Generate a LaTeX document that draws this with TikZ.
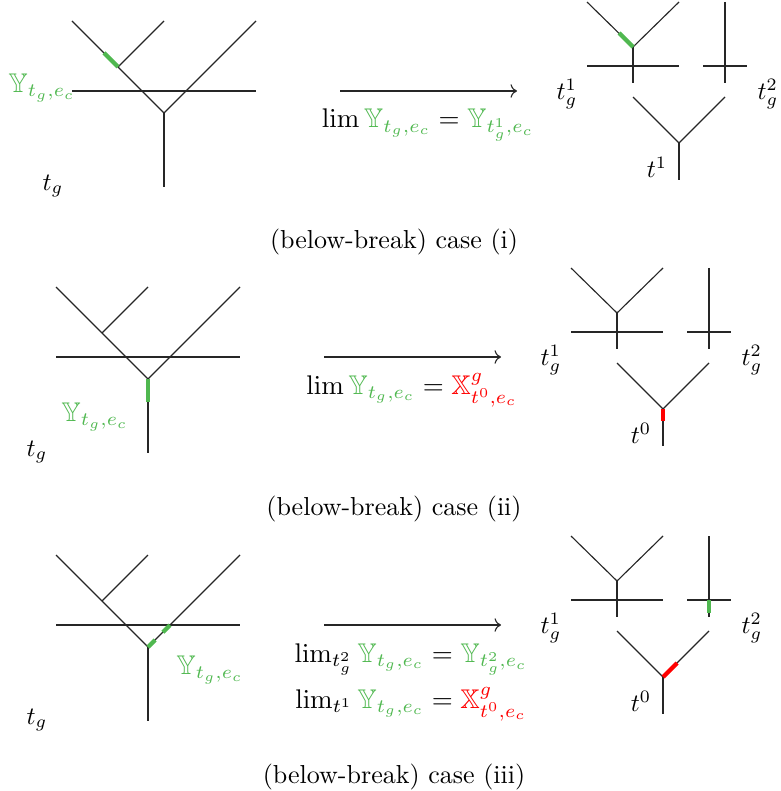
\documentclass[tikz,border=0pt]{standalone}
\usepackage{amsmath,amssymb}
\usepackage{xcolor}
\usepackage{tikz}
\usetikzlibrary{positioning,arrows.meta,calc}
\definecolor{brkgreen}{RGB}{80,184,80}
\newcommand{\Ytg}{\mathbb{Y}_{t_g,e_c}}
\newcommand{\Xto}{\mathbb{X}^g_{t^0,e_c}}

\begin{document}
\begin{tikzpicture}[
  x=0.4pt, y=-0.4pt,
  every node/.style={font=\normalsize},
  tree/.style={draw=black!85,line width=0.45pt},
  hlg/.style={draw=brkgreen,line width=1.7pt},
  hlr/.style={draw=red,line width=1.7pt},
  lab/.style={inner sep=0pt},
  glab/.style={text=brkgreen,inner sep=0pt,scale=1.08},
  captext/.style={anchor=base,scale=1.04},
  limtext/.style={anchor=base,inner sep=0pt,scale=1.08}
]
\useasboundingbox (0,0) rectangle (780,791);

% one row per case: j = joint of t_g, k = joint of t_g^1, b = lower joint
\foreach \r/\jx/\jy/\cs in {1/164/113/i, 2/148/379/ii, 3/148/647/iii}{
  \coordinate (j\r) at (\jx,\jy);
  \coordinate (s\r) at (\jx-46,\jy-46);
  \coordinate (k\r) at (\jx+469,\jy-66);
  \coordinate (b\r) at (\jx+515,\jy+30);
  \coordinate (a\r) at (\jx+176,\jy-22);
  \coordinate (z\r) at (\jx+353,\jy-22);
  % left tree t_g
  \draw[tree] (j\r) ++(-92,-92) -- (j\r) -- ++(92,-92);
  \draw[tree] (j\r) -- ++(0,74);
  \draw[tree] (s\r) -- ++(46,-46);
  \draw[tree] (j\r) ++(-92,-22) -- ++(184,0);
  % right trees t_g^1, t_g^2 and the lower one
  \draw[tree] (k\r) ++(-46,-45) -- (k\r) -- ++(46,-45);
  \draw[tree] (k\r) -- ++(0,36);
  \draw[tree] (k\r) ++(-46,19) -- ++(92,0);
  \draw[tree] (k\r) ++(92,-45) -- ++(0,81);
  \draw[tree] (k\r) ++(70,19) -- ++(44,0);
  \draw[tree] (b\r) ++(-46,-46) -- (b\r) -- ++(46,-46);
  \draw[tree] (b\r) -- ++(0,37);
  \draw[->,black!85,line width=0.45pt] (a\r) -- (z\r);
  \node[lab] (tg\r) at ([shift={(-111,73)}]j\r) {$t_g$};
  \node[lab] (ta\r) at ([shift={(-66,47)}]k\r) {$t_g^1$};
  \node[lab] (tb\r) at ([shift={(135,47)}]k\r) {$t_g^2$};
  \node[captext] (cap\r) at (394,\jy+136) {(below-break) case (\cs)};
}

% case (i)
\draw[hlg] (s1) -- ++(-14,-14);
\draw[hlg] (k1) -- ++(-14,-14);
\node[glab] (y1) at ([shift={(-122,-25)}]j1) {$\Ytg$};
\node[lab] (t1) at ([shift={(-22,24)}]b1) {$t^1$};
\node[limtext] (l1) at ([shift={(264,15)}]j1)
  {$\lim\textcolor{brkgreen}{\Ytg} = \textcolor{brkgreen}{\mathbb{Y}_{t_g^1,e_c}}$};

% case (ii)
\draw[hlg] (j2) -- ++(0,23);
\draw[hlr] (b2) -- ++(0,12);
\node[glab] (y2) at ([shift={(-53,38)}]j2) {$\Ytg$};
\node[lab] (t2) at ([shift={(-22,24)}]b2) {$t^0$};
\node[limtext] (l2) at ([shift={(264,15)}]j2)
  {$\lim\textcolor{brkgreen}{\Ytg} = \textcolor{red}{\Xto}$};

% case (iii)
\draw[hlg,dash pattern=on 4pt off 4.4pt] (j3) -- ++(22,-22);
\draw[hlg] (k3) ++(92,19) -- ++(0,13);
\draw[hlr] (b3) -- ++(14,-14);
\node[glab] (y3) at ([shift={(62,23)}]j3) {$\Ytg$};
\node[lab] (t3) at ([shift={(-22,24)}]b3) {$t^0$};
\node[limtext] (l3a) at ([shift={(263,15)}]j3)
  {$\lim_{t_g^2}\textcolor{brkgreen}{\Ytg} = \textcolor{brkgreen}{\mathbb{Y}_{t_g^2,e_c}}$};
\node[limtext] (l3b) at ([shift={(263,61)}]j3)
  {$\lim_{t^1}\textcolor{brkgreen}{\Ytg} = \textcolor{red}{\Xto}$};
\end{tikzpicture}
\end{document}
